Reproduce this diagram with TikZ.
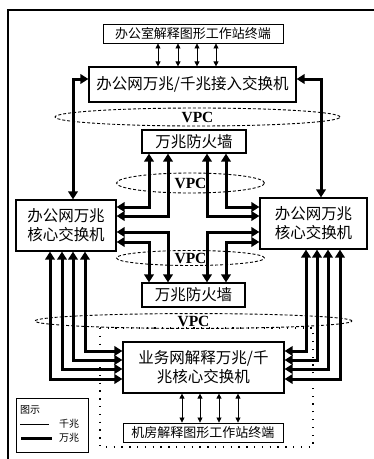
\documentclass[tikz,border=0pt]{standalone}
\usepackage{fontspec}
\setmainfont{Liberation Serif}
\newfontfamily\cjk{Noto Sans CJK SC}
\usetikzlibrary{arrows.meta,shapes.geometric}
\begin{document}
\begin{tikzpicture}[x=1pt,y=-1pt,
  box/.style={draw,line width=1.2pt,inner sep=0pt,align=center,font=\cjk\fontsize{15.5}{19}\selectfont},
  termbox/.style={box,line width=0.9pt,font=\cjk\fontsize{13}{15}\selectfont},
  vpc/.style={draw,dashed,dash pattern=on 3pt off 2pt,line width=0.9pt,ellipse,inner sep=0pt,font=\bfseries\fontsize{15.5}{15.5}\selectfont},
  wan/.style={line width=3pt,{Triangle[length=8pt,width=9.5pt]}-{Triangle[length=8pt,width=9.5pt]}},
  qian/.style={line width=0.8pt,{Triangle[length=5pt,width=5pt]}-{Triangle[length=5pt,width=5pt]}},
  frame/.style={line width=1.6pt},
  zone/.style={line width=1.3pt,dash pattern=on 1.3pt off 6.5pt}
]
\useasboundingbox (0,0) rectangle (374,459);
% outer frame
\draw[frame] (374,10) -- (8,10) -- (8,459);
% zone
\draw[zone] (100,328) rectangle (313,447);
% nodes
\node[termbox,minimum width=180pt,minimum height=19pt] (term1) at (193,33.5) {办公室解释图形工作站终端};
\node[box,minimum width=207pt,minimum height=35pt] (access) at (192.5,84.5) {办公网万兆/千兆接入交换机};
\node[vpc,minimum width=285pt,minimum height=18pt] (vpc1) at (197.5,117) {VPC};
\node[box,minimum width=104pt,minimum height=23pt] (fw1) at (194,141.5) {万兆防火墙};
\node[vpc,minimum width=148pt,minimum height=20pt] (vpc2) at (190.5,183) {VPC};
\node[box,minimum width=100pt,minimum height=51pt] (coreL) at (66,225.5) {办公网万兆\\核心交换机};
\node[box,minimum width=107pt,minimum height=51pt] (coreR) at (313.5,223.5) {办公网万兆\\核心交换机};
\node[vpc,minimum width=148pt,minimum height=15pt] (vpc3) at (190.5,258) {VPC};
\node[box,minimum width=103pt,minimum height=24pt] (fw2) at (193.5,295) {万兆防火墙};
\node[vpc,minimum width=317pt,minimum height=14pt] (vpc4) at (193.5,321) {VPC};
\node[box,minimum width=161pt,minimum height=51pt] (svc) at (203.5,367.5) {业务网解释万兆/千\\兆核心交换机};
\node[termbox,minimum width=160pt,minimum height=19pt] (term2) at (203,432.5) {机房解释图形工作站终端};
% thin arrows
\foreach \x in {158,178,197,216} \draw[qian] (term1.south -| \x,0) -- (access.north -| \x,0);
\foreach \x in {182,200,219,238} \draw[qian] (svc.south -| \x,0) -- (term2.north -| \x,0);
% outer big arrows
\draw[wan] (coreL.north -| 73,0) |- (access.west |- 0,79);
\draw[wan] (coreR.north -| 321,0) |- (access.east |- 0,79);
% center arrows
\draw[wan] (fw1.south -| 149,0) |- (coreL.east |- 0,207);
\draw[wan] (fw1.south -| 168,0) |- (coreL.east |- 0,216);
\draw[wan] (fw1.south -| 207,0) |- (coreR.west |- 0,216);
\draw[wan] (fw1.south -| 226,0) |- (coreR.west |- 0,207);
\draw[wan] (fw2.north -| 168,0) |- (coreL.east |- 0,232);
\draw[wan] (fw2.north -| 149,0) |- (coreL.east |- 0,242);
\draw[wan] (fw2.north -| 207,0) |- (coreR.west |- 0,232);
\draw[wan] (fw2.north -| 226,0) |- (coreR.west |- 0,242);
% bottom arrows
\draw[wan] (coreL.south -| 50,0) |- (svc.west |- 0,379);
\draw[wan] (coreL.south -| 62,0) |- (svc.west |- 0,369);
\draw[wan] (coreL.south -| 73,0) |- (svc.west |- 0,360);
\draw[wan] (coreL.south -| 85,0) |- (svc.west |- 0,351);
\draw[wan] (coreR.south -| 306,0) |- (svc.east |- 0,351);
\draw[wan] (coreR.south -| 317,0) |- (svc.east |- 0,360);
\draw[wan] (coreR.south -| 328,0) |- (svc.east |- 0,369);
\draw[wan] (coreR.south -| 340,0) |- (svc.east |- 0,379);
% legend
\node[draw,line width=0.9pt,minimum width=72pt,minimum height=54pt,inner sep=0pt] (legend) at (52,425) {};
\node[font=\cjk\fontsize{10}{12}\selectfont,anchor=west,inner sep=0pt] (lgt) at (20,410) {图示};
\node[font=\cjk\fontsize{10}{12}\selectfont,anchor=west,inner sep=0pt] (lq) at (59,424) {千兆};
\node[font=\cjk\fontsize{10}{12}\selectfont,anchor=west,inner sep=0pt] (lw) at (59,438) {万兆};
\draw[line width=0.8pt] (lq.west -| 20,0) -- (lq.west -| 49,0);
\draw[line width=3pt] (lw.west -| 21,0) -- (lw.west -| 52,0);
\end{tikzpicture}
\end{document}
